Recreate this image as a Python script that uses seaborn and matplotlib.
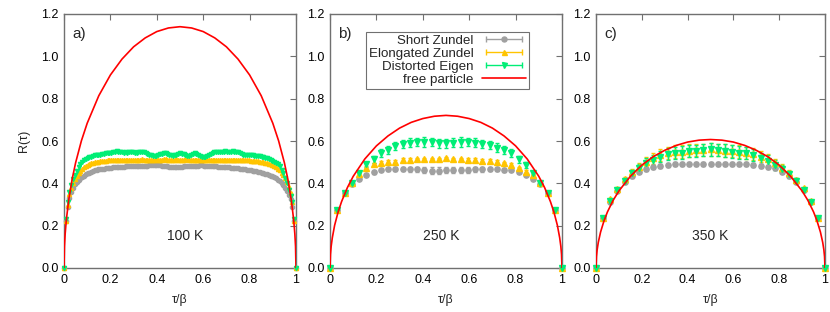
import matplotlib
matplotlib.use("Agg")
import matplotlib.pyplot as plt
from matplotlib.lines import Line2D
from matplotlib.legend_handler import HandlerLine2D
import numpy as np
import seaborn as sns

sns.set_style("white")
plt.rcParams["font.family"] = ["Liberation Sans", "DejaVu Sans"]

# ---------------- data ----------------
series_names = ["Short Zundel", "Elongated Zundel", "Distorted Eigen"]
temps = ["100 K", "250 K", "350 K"]
panel_tags = ["a)", "b)", "c)"]

# 100 K, 129 imaginary-time slices (tau/beta = k/128)
zundel_short_100 = [
    0, 0.22, 0.29, 0.33, 0.36, 0.38, 0.395, 0.405, 0.415, 0.423,
    0.43, 0.436, 0.442, 0.447, 0.451, 0.455, 0.458, 0.461, 0.463, 0.466,
    0.468, 0.469, 0.470, 0.471, 0.472, 0.474, 0.474, 0.475, 0.476, 0.476,
    0.477, 0.478, 0.478, 0.479, 0.480, 0.480, 0.481, 0.480, 0.481, 0.482,
    0.482, 0.481, 0.482, 0.483, 0.483, 0.484, 0.484, 0.485, 0.485, 0.486,
    0.486, 0.487, 0.486, 0.485, 0.484, 0.482, 0.481, 0.480, 0.479, 0.479,
    0.478, 0.478, 0.478, 0.479, 0.479, 0.479, 0.480, 0.481, 0.481, 0.482,
    0.483, 0.483, 0.484, 0.484, 0.484, 0.485, 0.485, 0.484, 0.484, 0.483,
    0.483, 0.482, 0.481, 0.481, 0.480, 0.479, 0.478, 0.478, 0.477, 0.476,
    0.476, 0.475, 0.474, 0.474, 0.473, 0.472, 0.471, 0.470, 0.469, 0.467,
    0.466, 0.464, 0.463, 0.461, 0.460, 0.458, 0.456, 0.454, 0.452, 0.450,
    0.448, 0.446, 0.443, 0.440, 0.437, 0.433, 0.429, 0.424, 0.418, 0.411,
    0.402, 0.391, 0.378, 0.363, 0.345, 0.325, 0.29, 0.22, 0,
]
zundel_long_100 = [
    0, 0.22, 0.30, 0.35, 0.38, 0.40, 0.42, 0.435, 0.45, 0.46,
    0.47, 0.477, 0.483, 0.488, 0.492, 0.495, 0.498, 0.50, 0.502, 0.503,
    0.504, 0.505, 0.506, 0.507, 0.508, 0.508, 0.509, 0.509, 0.510, 0.510,
    0.511, 0.511, 0.510, 0.511, 0.512, 0.511, 0.510, 0.511, 0.512, 0.512,
    0.511, 0.511, 0.512, 0.513, 0.512, 0.511, 0.511, 0.510, 0.511, 0.512,
    0.512, 0.513, 0.512, 0.511, 0.512, 0.513, 0.513, 0.512, 0.511, 0.511,
    0.512, 0.512, 0.513, 0.512, 0.512, 0.511, 0.512, 0.513, 0.513, 0.512,
    0.511, 0.511, 0.512, 0.512, 0.511, 0.510, 0.511, 0.512, 0.512, 0.511,
    0.511, 0.512, 0.512, 0.511, 0.510, 0.511, 0.511, 0.512, 0.511, 0.510,
    0.511, 0.511, 0.510, 0.510, 0.511, 0.510, 0.510, 0.509, 0.510, 0.509,
    0.509, 0.508, 0.508, 0.507, 0.507, 0.506, 0.505, 0.504, 0.503, 0.502,
    0.500, 0.498, 0.496, 0.493, 0.490, 0.486, 0.481, 0.476, 0.469, 0.461,
    0.451, 0.439, 0.424, 0.405, 0.383, 0.356, 0.31, 0.22, 0,
]
eigen_100 = [
    0, 0.23, 0.31, 0.36, 0.39, 0.42, 0.44, 0.46, 0.475, 0.49,
    0.50, 0.51, 0.515, 0.52, 0.523, 0.525, 0.53, 0.532, 0.533, 0.534,
    0.536, 0.538, 0.540, 0.542, 0.543, 0.542, 0.545, 0.548, 0.550, 0.551,
    0.550, 0.548, 0.546, 0.545, 0.546, 0.545, 0.546, 0.547, 0.546, 0.545,
    0.544, 0.546, 0.547, 0.548, 0.546, 0.544, 0.540, 0.536, 0.532, 0.529,
    0.528, 0.530, 0.533, 0.537, 0.540, 0.542, 0.542, 0.540, 0.536, 0.532,
    0.530, 0.532, 0.536, 0.540, 0.541, 0.540, 0.537, 0.533, 0.530, 0.531,
    0.535, 0.539, 0.541, 0.540, 0.535, 0.530, 0.526, 0.524, 0.525, 0.528,
    0.533, 0.538, 0.543, 0.547, 0.549, 0.550, 0.549, 0.548, 0.550, 0.551,
    0.550, 0.549, 0.550, 0.551, 0.549, 0.548, 0.548, 0.545, 0.540, 0.536,
    0.533, 0.532, 0.533, 0.535, 0.534, 0.531, 0.529, 0.528, 0.527, 0.526,
    0.524, 0.522, 0.520, 0.517, 0.512, 0.507, 0.502, 0.498, 0.490, 0.480,
    0.465, 0.45, 0.425, 0.40, 0.37, 0.34, 0.31, 0.23, 0,
]
err_100 = [0.006, 0.004, 0.005]

# 250 K, 33 slices (tau/beta = k/32)
zundel_short_250 = [
    0, 0.274, 0.356, 0.395, 0.419, 0.439, 0.452, 0.463, 0.466, 0.466,
    0.466, 0.466, 0.466, 0.463, 0.460, 0.460, 0.463, 0.463, 0.463, 0.463,
    0.466, 0.466, 0.466, 0.466, 0.463, 0.463, 0.455, 0.439, 0.419, 0.395,
    0.356, 0.274, 0,
]
zundel_long_250 = [
    0, 0.274, 0.356, 0.403, 0.444, 0.474, 0.490, 0.498, 0.502, 0.502,
    0.510, 0.510, 0.513, 0.513, 0.513, 0.513, 0.518, 0.513, 0.513, 0.510,
    0.510, 0.507, 0.505, 0.500, 0.495, 0.487, 0.471, 0.455, 0.439, 0.403,
    0.356, 0.274, 0,
]
eigen_250 = [
    0, 0.274, 0.356, 0.403, 0.450, 0.490, 0.514, 0.542, 0.557, 0.576,
    0.585, 0.592, 0.596, 0.596, 0.596, 0.589, 0.589, 0.592, 0.596, 0.596,
    0.592, 0.585, 0.580, 0.569, 0.557, 0.542, 0.514, 0.487, 0.448, 0.403,
    0.356, 0.274, 0,
]
zundel_short_250_err = [
    0, 0.003, 0.004, 0.005, 0.005, 0.006, 0.006, 0.007, 0.008, 0.009,
    0.010, 0.012, 0.013, 0.014, 0.015, 0.015, 0.015, 0.015, 0.015, 0.014,
    0.013, 0.012, 0.010, 0.009, 0.008, 0.007, 0.006, 0.006, 0.005, 0.005,
    0.004, 0.003, 0,
]
zundel_long_250_err = [
    0, 0.003, 0.004, 0.005, 0.006, 0.006, 0.007, 0.007, 0.008, 0.008,
    0.008, 0.008, 0.008, 0.008, 0.008, 0.008, 0.008, 0.008, 0.008, 0.008,
    0.008, 0.008, 0.008, 0.008, 0.008, 0.007, 0.007, 0.006, 0.006, 0.005,
    0.004, 0.003, 0,
]
eigen_250_err = [
    0, 0.003, 0.004, 0.006, 0.010, 0.013, 0.016, 0.018, 0.020, 0.020,
    0.020, 0.020, 0.020, 0.022, 0.020, 0.020, 0.020, 0.020, 0.022, 0.020,
    0.020, 0.020, 0.020, 0.020, 0.018, 0.018, 0.016, 0.013, 0.010, 0.006,
    0.004, 0.003, 0,
]

# 350 K, 33 slices (tau/beta = k/32)
zundel_short_350 = [
    0, 0.234, 0.313, 0.365, 0.408, 0.434, 0.455, 0.466, 0.476, 0.482,
    0.487, 0.490, 0.491, 0.491, 0.491, 0.491, 0.491, 0.491, 0.491, 0.491,
    0.491, 0.490, 0.487, 0.482, 0.479, 0.471, 0.455, 0.436, 0.408, 0.368,
    0.313, 0.234, 0,
]
zundel_long_350 = [
    0, 0.234, 0.325, 0.373, 0.419, 0.452, 0.479, 0.502, 0.518, 0.534,
    0.542, 0.550, 0.550, 0.554, 0.557, 0.557, 0.561, 0.557, 0.554, 0.553,
    0.550, 0.545, 0.539, 0.526, 0.513, 0.494, 0.471, 0.447, 0.416, 0.377,
    0.317, 0.234, 0,
]
eigen_350 = [
    0, 0.234, 0.318, 0.368, 0.412, 0.447, 0.474, 0.498, 0.510, 0.526,
    0.537, 0.542, 0.545, 0.553, 0.553, 0.557, 0.561, 0.557, 0.554, 0.550,
    0.545, 0.542, 0.534, 0.518, 0.507, 0.487, 0.466, 0.442, 0.412, 0.368,
    0.313, 0.234, 0,
]
zundel_short_350_err = [
    0, 0.003, 0.004, 0.005, 0.006, 0.007, 0.008, 0.008, 0.009, 0.009,
    0.010, 0.010, 0.010, 0.010, 0.010, 0.010, 0.010, 0.010, 0.010, 0.010,
    0.010, 0.010, 0.010, 0.009, 0.009, 0.008, 0.008, 0.007, 0.006, 0.005,
    0.004, 0.003, 0,
]
zundel_long_350_err = [
    0, 0.003, 0.005, 0.008, 0.011, 0.015, 0.019, 0.022, 0.025, 0.027,
    0.028, 0.029, 0.030, 0.030, 0.030, 0.030, 0.030, 0.030, 0.030, 0.030,
    0.030, 0.029, 0.028, 0.027, 0.025, 0.022, 0.019, 0.015, 0.011, 0.008,
    0.005, 0.003, 0,
]
eigen_350_err = [
    0, 0.003, 0.005, 0.008, 0.011, 0.015, 0.019, 0.022, 0.025, 0.027,
    0.028, 0.029, 0.030, 0.030, 0.030, 0.030, 0.030, 0.030, 0.030, 0.030,
    0.030, 0.029, 0.028, 0.027, 0.025, 0.022, 0.019, 0.015, 0.011, 0.008,
    0.005, 0.003, 0,
]

# free particle curves
fp_tau = [0, 0.002, 0.005, 0.01, 0.02, 0.035, 0.05, 0.075, 0.1, 0.15, 0.2,
          0.25, 0.3, 0.35, 0.4, 0.45, 0.5, 0.55, 0.6, 0.65, 0.7, 0.75, 0.8,
          0.85, 0.9, 0.925, 0.95, 0.965, 0.98, 0.99, 0.995, 0.998, 1]
fp_100 = [0, 0.102, 0.161, 0.227, 0.319, 0.419, 0.497, 0.601, 0.684, 0.814,
          0.912, 0.987, 1.045, 1.087, 1.117, 1.134, 1.14, 1.134, 1.117, 1.087,
          1.045, 0.987, 0.912, 0.814, 0.684, 0.601, 0.497, 0.419, 0.319, 0.227,
          0.161, 0.102, 0]
fp_250 = [0, 0.064, 0.102, 0.143, 0.202, 0.265, 0.314, 0.380, 0.433, 0.515,
          0.577, 0.624, 0.661, 0.688, 0.706, 0.717, 0.721, 0.717, 0.706, 0.688,
          0.661, 0.624, 0.577, 0.515, 0.433, 0.380, 0.314, 0.265, 0.202, 0.143,
          0.102, 0.064, 0]
fp_350 = [0, 0.054, 0.086, 0.121, 0.170, 0.223, 0.265, 0.320, 0.364, 0.433,
          0.486, 0.526, 0.556, 0.579, 0.595, 0.604, 0.607, 0.604, 0.595, 0.579,
          0.556, 0.526, 0.486, 0.433, 0.364, 0.320, 0.265, 0.223, 0.170, 0.121,
          0.086, 0.054, 0]

# ---------------- styling ----------------
colors = ["#a0a0a0", "#ffc400", "#00ee76"]
markers = ["o", "^", "v"]
fp_color = "#ff0000"
frame_color = "#707070"

panels = [
    dict(vals=[zundel_short_100, zundel_long_100, eigen_100],
         errs=[[e] * len(eigen_100) for e in err_100],
         fp=fp_100, ms=3.0, cap=0.0, label_x=0.52),
    dict(vals=[zundel_short_250, zundel_long_250, eigen_250],
         errs=[zundel_short_250_err, zundel_long_250_err, eigen_250_err],
         fp=fp_250, ms=3.8, cap=1.6, label_x=0.48),
    dict(vals=[zundel_short_350, zundel_long_350, eigen_350],
         errs=[zundel_short_350_err, zundel_long_350_err, eigen_350_err],
         fp=fp_350, ms=3.8, cap=1.6, label_x=0.50),
]

fig = plt.figure(figsize=(8.3, 3.12), dpi=100)
boxes = [(64, 296), (330, 562), (596, 825)]
bottom, top = 1 - 268 / 312, 1 - 14 / 312

axes = []
for (x0, x1), p, tag, temp in zip(boxes, panels, panel_tags, temps):
    ax = fig.add_axes([x0 / 830, bottom, (x1 - x0) / 830, top - bottom])
    axes.append(ax)
    n = len(p["vals"][0])
    tau = np.linspace(0, 1, n)
    for vals, err, c, m in zip(p["vals"], p["errs"], colors, markers):
        ax.errorbar(tau, vals, yerr=err, fmt=m, color=c, ms=p["ms"],
                    mec=c, mfc=c, elinewidth=1.0, capsize=p["cap"],
                    capthick=1.0, clip_on=False, zorder=3)
    sns.lineplot(x=fp_tau, y=p["fp"], ax=ax, color=fp_color, lw=1.2,
                 sort=False, estimator=None, zorder=4)

    ax.set_xlim(0, 1)
    ax.set_ylim(0, 1.2)
    ax.set_xticks([0, 0.2, 0.4, 0.6, 0.8, 1.0])
    ax.set_xticklabels(["0", "0.2", "0.4", "0.6", "0.8", "1"])
    ax.set_yticks([0, 0.2, 0.4, 0.6, 0.8, 1.0, 1.2])
    ax.set_yticklabels(["0.0", "0.2", "0.4", "0.6", "0.8", "1.0", "1.2"])
    ax.tick_params(direction="in", top=True, right=True, length=4,
                   width=0.8, color=frame_color, labelsize=9, pad=4,
                   labelcolor="black")
    for s in ax.spines.values():
        s.set_color(frame_color)
        s.set_linewidth(1.0)
    ax.set_xlabel("τ/β", fontsize=9, labelpad=6)
    ax.set_ylabel("")
    ax.text(0.035, 0.92, tag, transform=ax.transAxes, fontsize=11,
            ha="left", va="center")
    ax.text(p["label_x"], 0.125, temp, transform=ax.transAxes, fontsize=10,
            ha="center", va="center")

axes[0].set_ylabel("R(τ)", fontsize=9, labelpad=8)

# legend in panel b (gnuplot style: text first, right aligned)
handles = []
hmap = {}
for c, m in zip(colors, markers):
    cap_line = Line2D([], [], color=c, lw=1.0, marker="|", ms=5, mew=1.0)
    dot = Line2D([], [], color=c, marker=m, ms=3.6, ls="none")
    hmap[cap_line] = HandlerLine2D(numpoints=2)
    handles.append((cap_line, dot))
handles.append(Line2D([], [], color=fp_color, lw=1.2))
labels = series_names + ["free particle"]
leg = axes[1].legend(
    handles, labels, markerfirst=False, loc="upper left",
    bbox_to_anchor=(0.155, 0.93), frameon=True, fancybox=False,
    edgecolor=frame_color, framealpha=1, fontsize=9.6, handlelength=3.3,
    borderpad=0.22, labelspacing=0.05, handletextpad=0.6, borderaxespad=0,
    numpoints=1, handler_map=hmap)
leg.get_frame().set_linewidth(0.8)

fig.savefig("out.png", dpi=100)
